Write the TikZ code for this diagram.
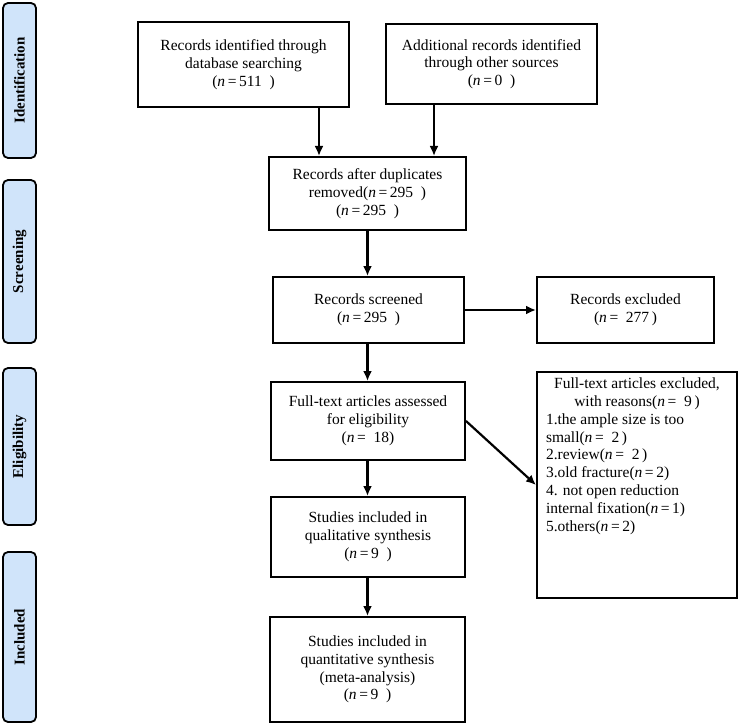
\documentclass[tikz,border=0pt]{standalone}
\usepackage{fontspec}
\setmainfont{Liberation Serif}
\usepackage{xcolor}
\usetikzlibrary{arrows.meta}
\definecolor{barblue}{RGB}{208,228,250}

\tikzset{
 box/.style={draw=black, line width=2pt, align=center, inner sep=2pt, font=\fontsize{15.5}{17.8}\selectfont},
 phase/.style={draw=black, line width=1.8pt, rounded corners=5pt, fill=barblue, rotate=90, inner sep=0pt, font=\fontsize{15}{17}\selectfont\bfseries},
 arr/.style={line width=2.2pt, -{Latex[length=10pt,width=9pt]}}
}

\begin{document}
\begin{tikzpicture}[x=1pt, y=-1pt]

 \useasboundingbox (0,0) rectangle (740,725);

         \node (ident) at (19.5, 80.5)[phase, minimum width=155pt, minimum height=33pt]{Identification};
         \node (screen) at (19.5, 261.5)[phase, minimum width=163pt, minimum height=33pt]{Screening};
         \node (elig) at (19.5, 446.5)[phase, minimum width=157pt, minimum height=33pt]{Eligibility};
         \node (incl) at (19.5, 637)[phase, minimum width=170pt, minimum height=33pt]{Included};

 \node (recdb) at (243.5, 64.5)[box, minimum width=211pt, minimum height=85pt]{Records identified through\\ database searching\\ (\textit{n}\,=\,511\ \ )};
          \node (recother) at (491.5, 64)[box, minimum width=211pt, minimum height=80pt]{Additional records identified\\ through other sources\\ (\textit{n}\,=\,0\ \ )};

          \node (dup) at (367.5, 193.5)[box, minimum width=197pt, minimum height=73pt]{Records after duplicates\\ removed(\textit{n}\,=\,295\ \ )\\ (\textit{n}\,=\,295\ \ )};

          \node (screened) at (368.5, 310)[box, minimum width=191pt, minimum height=66pt]{Records screened\\ (\textit{n}\,=\,295\ \ )};
          \node (excl) at (625.5, 310)[box, minimum width=177pt, minimum height=66pt]{Records excluded\\ (\textit{n}\,=\ \ 277\,)};

 \node (fulltext) at (368, 421)[box, minimum width=194pt, minimum height=78pt]{Full-text articles assessed\\ for eligibility\\ (\textit{n}\,=\ \ 18)};
          \node (ftexcl) at (637, 485)[box, inner xsep=9pt, inner ysep=6pt]{\parbox[c][214pt][t]{182pt}{%
          {\centering Full-text articles excluded,\\ with reasons(\textit{n}\,=\ \ 9\,)\par}
          1.the ample size is too\\ small(\textit{n}\,=\ \ 2\,)\\ 2.review(\textit{n}\,=\ \ 2\,)\\ 3.old fracture(\textit{n}\,=\,2)\\ 4. not open reduction\\ internal fixation(\textit{n}\,=\,1)\\ 5.others(\textit{n}\,=\,2)}};

          \node (qual) at (368, 537)[box, minimum width=194pt, minimum height=80pt]{Studies included in\\ qualitative synthesis\\ (\textit{n}\,=\,9\ \ )};
          \node (quant) at (367.5, 669.5)[box, minimum width=195pt, minimum height=105pt]{Studies included in\\ quantitative synthesis\\ (meta-analysis)\\ (\textit{n}\,=\,9\ \ )};

\coordinate (c1) at (319, 0);
\coordinate (c2) at (434, 0);

 \draw [arr] (recdb.south -| c1) -- (dup.north -| c1);
 \draw [arr] (recother.south -| c2) -- (dup.north -| c2);
 \draw [arr] (dup.south) -- (dup.south |- screened.north);
 \draw [arr] (screened.east) -- (excl.west);
 \draw [arr] (screened.south -| dup.south) -- (fulltext.north -| dup.south);
 \draw [arr] (fulltext.east) -- (ftexcl.west);
 \draw [arr] (fulltext.south -| dup.south) -- (qual.north -| dup.south);
 \draw [arr] (qual.south -| dup.south) -- (quant.north -| dup.south);

\end{tikzpicture}
\end{document}
